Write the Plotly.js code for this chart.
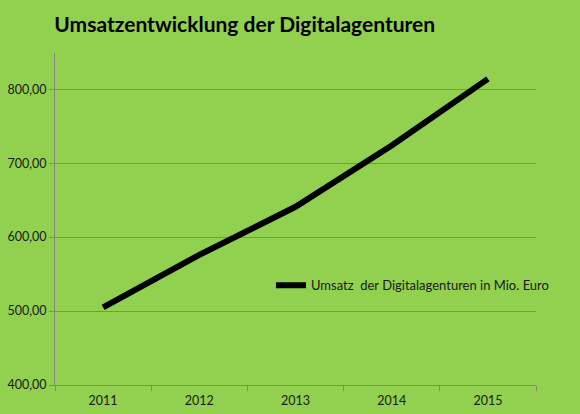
<!DOCTYPE html>
<html>
<head>
<meta charset="utf-8">
<script src="https://cdn.plot.ly/plotly-3.0.1.min.js"></script>
<style>
  html, body { margin: 0; padding: 0; background: #92D050; }
  #chart { width: 580px; height: 414px; }
</style>
</head>
<body>
<div id="chart"></div>
<script>
var years = ['2011', '2012', '2013', '2014', '2015'];
var umsatz = [505, 576, 641, 724, 814];
var seriesName = 'Umsatz  der Digitalagenturen in Mio. Euro';

var data = [{
    x: years,
    y: umsatz,
    name: seriesName,
    type: 'scatter',
    mode: 'lines',
    line: { color: '#000000', width: 6 }
}];

var layout = {
    width: 580,
    height: 414,
    paper_bgcolor: '#92D050',
    plot_bgcolor: '#92D050',
    font: { family: 'Lato, "Open Sans", sans-serif', color: '#1a1a1a', size: 12 },
    separators: ',.',
    margin: { l: 55, r: 44, t: 53, b: 29 },
    title: {
        text: '<b>Umsatzentwicklung der Digitalagenturen</b>',
        font: { family: 'Lato, "Open Sans", sans-serif', size: 21, color: '#000000' },
        x: 0.422,
        xanchor: 'center',
        y: 0.94,
        yanchor: 'middle'
    },
    xaxis: {
        type: 'category',
        range: [-0.5, 4.5],
        tickson: 'boundaries',
        ticks: 'outside',
        ticklen: 5,
        tickcolor: '#858585',
        ticklabelstandoff: 4,
        showline: true,
        linecolor: '#858585',
        linewidth: 1,
        showgrid: false,
        tickfont: { size: 12.5, color: '#1a1a1a' },
        fixedrange: true
    },
    yaxis: {
        range: [400, 849],
        tickvals: [400, 500, 600, 700, 800],
        tickformat: '.2f',
        ticks: 'outside',
        ticklen: 5,
        tickcolor: '#858585',
        showline: true,
        linecolor: '#858585',
        gridcolor: '#858585',
        gridwidth: 1,
        zeroline: false,
        tickfont: { size: 12.5, color: '#1a1a1a' },
        fixedrange: true
    },
    showlegend: true,
    legend: {
        x: 0.449,
        y: 0.30,
        xanchor: 'left',
        yanchor: 'middle',
        bgcolor: 'rgba(0,0,0,0)',
        font: { size: 13, color: '#1a1a1a' }
    }
};

Plotly.newPlot('chart', data, layout, { displayModeBar: false, displaylogo: false });
</script>
</body>
</html>
